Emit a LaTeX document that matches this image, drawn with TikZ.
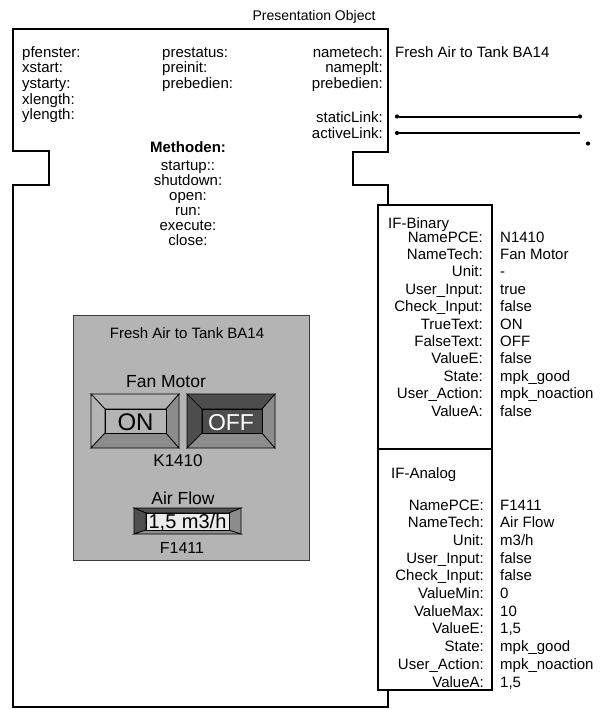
\documentclass[tikz,border=0pt]{standalone}
\usepackage{fontspec}
\setmainfont{Liberation Sans}
\definecolor{panelgray}{HTML}{B4B4B4}
\definecolor{panelline}{HTML}{3C3C3C}
\definecolor{ontop}{HTML}{B4B4B4}
\definecolor{onleft}{HTML}{B4B4B4}
\definecolor{onbot}{HTML}{8C8C8C}
\definecolor{onright}{HTML}{8C8C8C}
\definecolor{onface}{HTML}{B4B4B4}
\definecolor{offtop}{HTML}{4D4D4D}
\definecolor{offleft}{HTML}{4D4D4D}
\definecolor{offbot}{HTML}{8C8C8C}
\definecolor{offright}{HTML}{8C8C8C}
\definecolor{offface}{HTML}{4D4D4D}
\definecolor{disptop}{HTML}{505050}
\definecolor{displeft}{HTML}{505050}
\definecolor{dispbot}{HTML}{8C8C8C}
\definecolor{dispright}{HTML}{8C8C8C}
\definecolor{dispface}{HTML}{ECECEC}
\newcommand{\bevelbox}[9]{%
 \filldraw[bev, fill=#9top] (#1,#2) -- (#3,#2) -- (#7,#6) -- (#5,#6) -- cycle;
 \filldraw[bev, fill=#9left] (#1,#2) -- (#5,#6) -- (#5,#8) -- (#1,#4) -- cycle;
 \filldraw[bev, fill=#9bot] (#1,#4) -- (#5,#8) -- (#7,#8) -- (#3,#4) -- cycle;
 \filldraw[bev, fill=#9right] (#3,#2) -- (#7,#6) -- (#7,#8) -- (#3,#4) -- cycle;
 \filldraw[bev, fill=#9face] (#5,#6) rectangle (#7,#8);
}
\begin{document}
\begin{tikzpicture}[x=1pt,y=-1pt,
  txt/.style={inner sep=0pt, font=\fontsize{15}{15}\selectfont},
  lbl/.style={txt, anchor=base east},
  val/.style={txt, anchor=base west},
  ctr/.style={txt, anchor=base},
  outline/.style={line width=2.4pt, line join=miter},
  ifbox/.style={line width=1.3pt},
  bev/.style={draw=black, line width=0.7pt},
  link/.style={line width=2pt},
  dot/.style={circle, fill=black, inner sep=0pt, minimum size=4.2pt}
]
\useasboundingbox (0,0) rectangle (604,709);

% outer presentation object outline
\draw[outline] (388,205) -- (388,185) -- (353,185) -- (353,152) -- (388,152)
  -- (388,29) -- (13,29) -- (13,151) -- (49,151) -- (49,185) -- (13,185)
  -- (13,707) -- (388,707) -- (388,690);

\node[txt, anchor=base, font=\fontsize{14}{14}\selectfont] (title) at (314,21) {Presentation Object};

% left column
\foreach \t [count=\i from 0] in {pfenster:, xstart:, ystarty:, xlength:, ylength:}
  \node[val] (lc\i) at (22,{57+15.7*\i}) {\t};
% middle column
\foreach \t [count=\i from 0] in {prestatus:, preinit:, prebedien:}
  \node[val] (mc\i) at (162,{57+15.7*\i}) {\t};
% right column
\foreach \t [count=\i from 0] in {nametech:, nameplt:, prebedien:}
  \node[lbl] (rc\i) at (383,{57+15.7*\i}) {\t};
\node[val] (nametechv) at (395,57) {Fresh Air to Tank BA14};
\node[lbl] (static) at (383,122) {staticLink:};
\node[lbl] (active) at (383,138) {activeLink:};

% links
\node[dot] (s1) at (397,116.5) {};
\node[dot] (s2) at (580,116.5) {};
\node[dot] (a1) at (397,133) {};
\coordinate (a2) at (580,133);
\node[dot] (a3) at (588,143.5) {};
\draw[link] (s1) -- (s2);
\draw[link] (a1) -- (a2);

% methods
\node[ctr, font=\fontsize{15}{15}\selectfont\bfseries] (meth) at (188,152) {Methoden:};
\foreach \t [count=\i from 0] in {startup::, shutdown:, open:, run:, execute:, close:}
  \node[ctr] (m\i) at (188,{170+15*\i}) {\t};

% IF-Binary box
\draw[ifbox] (378,205) rectangle (492,449);
\node[val] (ifb) at (388,228) {IF-Binary};
\foreach \l/\v [count=\i from 0] in {NamePCE:/N1410, NameTech:/Fan Motor, Unit:/-,
   User\_Input:/true, Check\_Input:/false, TrueText:/ON, FalseText:/OFF,
   ValueE:/false, State:/mpk\_good, User\_Action:/mpk\_noaction, ValueA:/false}{
  \node[lbl] (bl\i) at (483,{242+17.4*\i}) {\l};
  \node[val] (bv\i) at (500,{242+17.4*\i}) {\v};
}

% IF-Analog box
\draw[ifbox] (378,449) rectangle (492,690);
\node[val] (ifa) at (391,478) {IF-Analog};
\foreach \l/\v [count=\i from 0] in {NamePCE:/F1411, NameTech:/Air Flow, Unit:/{m3/h},
   User\_Input:/false, Check\_Input:/false, ValueMin:/0, ValueMax:/10,
   ValueE:/{1,5}, State:/mpk\_good, User\_Action:/mpk\_noaction, ValueA:/{1,5}}{
  \node[lbl] (al\i) at (484,{510+17.7*\i}) {\l};
  \node[val] (av\i) at (500,{510+17.7*\i}) {\v};
}

% grey panel
\filldraw[fill=panelgray, draw=panelline, line width=0.9pt] (73,315) rectangle (309,560);
\node[ctr] (ptitle) at (187,338) {Fresh Air to Tank BA14};
\node[ctr, font=\fontsize{17.5}{17.5}\selectfont] (fan) at (166,387) {Fan Motor};

\bevelbox{91}{394}{179}{448}{105}{409}{166}{433}{on}
\bevelbox{187}{394}{275}{448}{202}{409}{262}{433}{off}
\node[ctr, font=\fontsize{24}{24}\selectfont] (ontxt) at (135.5,430) {ON};
\node[ctr, font=\fontsize{23}{23}\selectfont, text=white] (offtxt) at (231,430) {OFF};
\node[ctr, font=\fontsize{17}{17}\selectfont] (k1410) at (178,466) {K1410};

\node[ctr, font=\fontsize{17.5}{17.5}\selectfont] (airflow) at (183,504) {Air Flow};
\bevelbox{134}{508}{241}{534}{146}{513}{229}{530}{disp}
\node[ctr, font=\fontsize{20}{20}\selectfont] (flowval) at (187.5,528.5) {1,5 m3/h};
\node[ctr, font=\fontsize{16}{16}\selectfont] (f1411) at (182,553) {F1411};
\end{tikzpicture}
\end{document}
